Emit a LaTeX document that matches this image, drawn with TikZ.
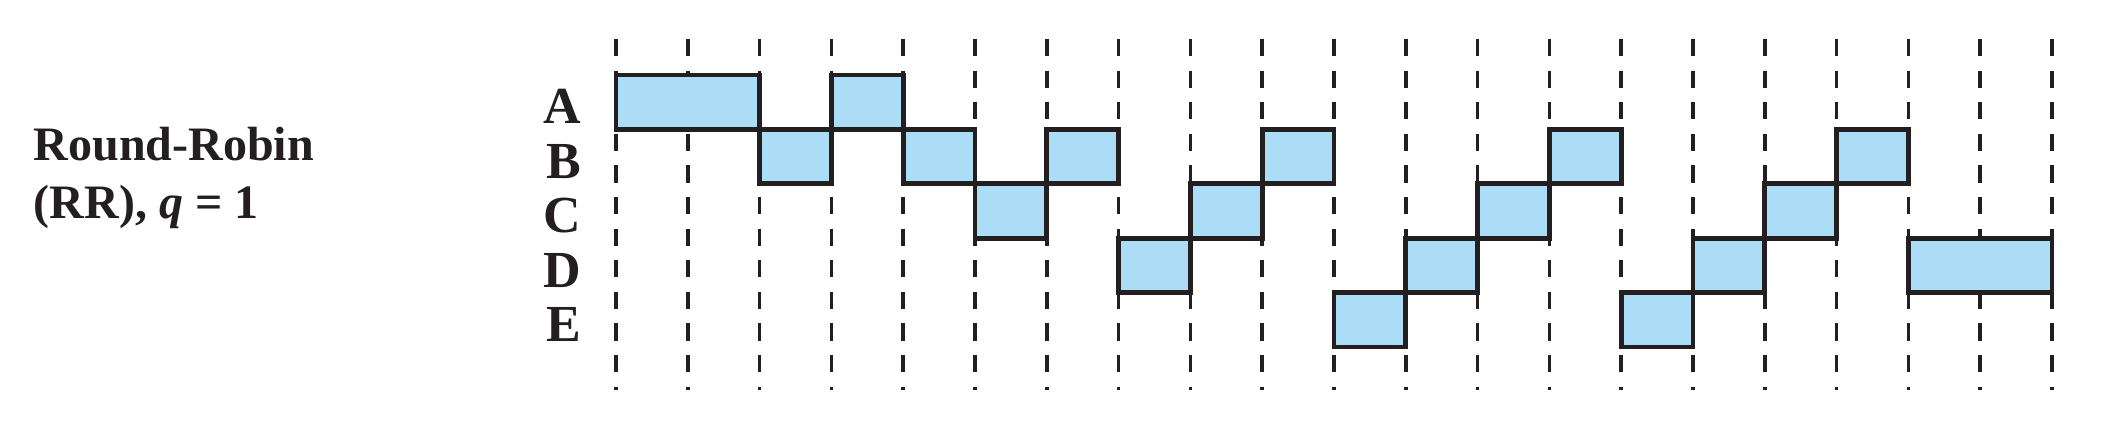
\documentclass[tikz,border=0pt]{standalone}
\usepackage{fontspec}
\setmainfont{Liberation Serif}
\usepackage{tikz}
\usetikzlibrary{positioning}
\definecolor{slotblue}{HTML}{ABDDF7}
\definecolor{inkgray}{HTML}{231F20}
\tikzset{
    slot/.style = {rectangle, very thick, draw=inkgray, fill=slotblue, inner sep=0pt, outer sep=0pt, anchor=north west, minimum height=13.6pt, minimum width=17.95pt},
    slotw/.style = {slot, minimum width=35.9pt},
    gridline/.style = {-, line width=0.9pt, inkgray, dash pattern=on 4.3pt off 3.6pt},
    lbl/.style = {anchor=base east, inner sep=0pt, font=\fontsize{13}{15}\selectfont\bfseries, text=inkgray},
    title/.style = {anchor=base west, inner sep=0pt, font=\fontsize{12}{14.5}\selectfont\bfseries, text=inkgray}
}

\begin{document}
\begin{tikzpicture}[x=17.95pt, y=13.6pt]
\useasboundingbox (-154pt,18.75pt) rectangle (377pt,-91.75pt);

% time grid
\foreach \t in {0,...,20}
    \draw[gridline] (\t,0.662) -- (\t,-5.79);

% process names
\node[lbl] at (-0.47,-0.897) (lA) {A};
\node[lbl] at (-0.47,-1.897) (lB) {B};
\node[lbl] at (-0.47,-2.897) (lC) {C};
\node[lbl] at (-0.47,-3.897) (lD) {D};
\node[lbl] at (-0.47,-4.897) (lE) {E};

\node[title] at (-8.12,-1.5625) (rr1) {Round-Robin};
\node[title] at (-8.12,-2.629) (rr2) {(RR), \textit{q} = 1};

% time slices
\node[slotw] at (0,0) (a1) {};
\node[slot] at (3,0) (a2) {};
\node[slot] at (2,-1) (b1) {};
\node[slot] at (4,-1) (b2) {};
\node[slot] at (6,-1) (b3) {};
\node[slot] at (9,-1) (b4) {};
\node[slot] at (13,-1) (b5) {};
\node[slot] at (17,-1) (b6) {};
\node[slot] at (5,-2) (c1) {};
\node[slot] at (8,-2) (c2) {};
\node[slot] at (12,-2) (c3) {};
\node[slot] at (16,-2) (c4) {};
\node[slot] at (7,-3) (d1) {};
\node[slot] at (11,-3) (d2) {};
\node[slot] at (15,-3) (d3) {};
\node[slotw] at (18,-3) (d4) {};
\node[slot] at (10,-4) (e1) {};
\node[slot] at (14,-4) (e2) {};
\end{tikzpicture}
\end{document}
